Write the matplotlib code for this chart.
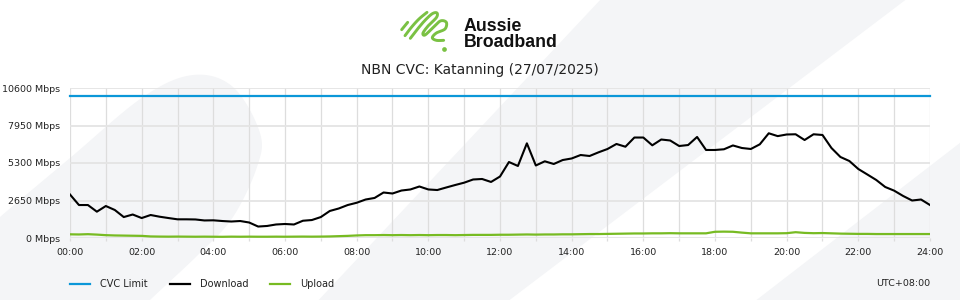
import numpy as np
import matplotlib
matplotlib.use("Agg")
import matplotlib.pyplot as plt
from matplotlib.transforms import Affine2D
from matplotlib.patches import Polygon
from matplotlib.lines import Line2D
from matplotlib.ticker import MultipleLocator, FuncFormatter

# ---------------- data ----------------
title = "NBN CVC: Katanning (27/07/2025)"
series_names = ["CVC Limit", "Download", "Upload"]
series_colors = ["#0b97d8", "#000000", "#77bb22"]
timezone_label = "UTC+08:00"
y_ticks = [0, 2650, 5300, 7950, 10600]

# hours, one sample every 15 minutes (00:00 .. 24:00)
hours = [i * 0.25 for i in range(97)]

cvc_limit = [10000] * 97

download = [
    3074, 2330, 2330, 1860, 2260, 1980, 1480, 1660,
    1410, 1625, 1505, 1410, 1320, 1320, 1310, 1240,
    1250, 1200, 1165, 1200, 1095, 810, 850, 955,
    990, 955, 1220, 1270, 1480, 1910, 2085, 2330,
    2490, 2720, 2830, 3215, 3145, 3355, 3430, 3640,
    3430, 3390, 3570, 3745, 3910, 4135, 4170, 3960,
    4345, 5370, 5090, 6690, 5125, 5420, 5230, 5510,
    5620, 5865, 5795, 6055, 6290, 6645, 6450, 7100,
    7100, 6550, 6960, 6890, 6500, 6570, 7140, 6220,
    6220, 6270, 6540, 6360, 6290, 6620, 7400, 7200,
    7315, 7330, 6925, 7330, 7280, 6360, 5725, 5440,
    4875, 4490, 4100, 3605, 3345, 2970, 2650, 2720,
    2330,
]

upload = [
    260, 250, 270, 240, 200, 180, 170, 160,
    150, 110, 100, 95, 100, 95, 90, 95,
    90, 85, 95, 90, 95, 90, 90, 95,
    90, 95, 100, 95, 100, 110, 130, 150,
    180, 200, 200, 210, 200, 210, 200, 210,
    200, 210, 210, 200, 210, 220, 220, 220,
    230, 230, 240, 250, 240, 250, 250, 260,
    260, 270, 280, 280, 290, 300, 310, 320,
    320, 330, 330, 340, 330, 330, 330, 330,
    440, 450, 440, 380, 330, 330, 330, 330,
    340, 410, 360, 340, 350, 330, 310, 300,
    290, 290, 280, 280, 280, 280, 280, 280,
    280,
]

# ---------------- figure ----------------
W, H = 960, 300
fig = plt.figure(figsize=(W / 100, H / 100), dpi=100, facecolor="white")
PX = Affine2D().scale(1 / W, -1 / H).translate(0, 1) + fig.transFigure

bg = "#f4f5f7"

def catmull(pts, n=16):
    pts = np.asarray(pts, float)
    P = np.vstack([pts[0], pts, pts[-1]])
    out = []
    for i in range(1, len(P) - 2):
        p0, p1, p2, p3 = P[i - 1], P[i], P[i + 1], P[i + 2]
        for t in np.linspace(0, 1, n, endpoint=False):
            t2, t3 = t * t, t * t * t
            out.append(0.5 * ((2 * p1) + (-p0 + p2) * t +
                              (2 * p0 - 5 * p1 + 4 * p2 - p3) * t2 +
                              (-p0 + 3 * p1 - 3 * p2 + p3) * t3))
    out.append(P[-2])
    return np.array(out)

# decorative background shapes
blob = catmull([(-30, 245), (0, 217), (70, 158), (143, 97), (193, 75),
                (233, 87), (260, 133), (257, 167), (233, 217), (200, 253),
                (150, 300), (125, 325)])
blob = np.vstack([blob, [(-30, 325)]])
fig.add_artist(Polygon(blob, closed=True, transform=PX, facecolor=bg,
                       edgecolor="none", zorder=-5))
fig.add_artist(Polygon([(314, 305), (602, -2), (908, -2), (503, 305)],
                       closed=True, transform=PX, facecolor=bg,
                       edgecolor="none", zorder=-5))
fig.add_artist(Polygon([(750, 305), (965, 139), (965, 305)],
                       closed=True, transform=PX, facecolor=bg,
                       edgecolor="none", zorder=-5))

# logo
green = "#7ac143"
def zl(pts):
    return [(395 + x / 3, 5 + y / 3) for x, y in pts]
strokes = [
    [(20, 74), (38, 52)],
    [(30, 92), (50, 66), (72, 42), (96, 22)],
    [(46, 100), (66, 74), (90, 46), (112, 26), (126, 24), (124, 38),
     (100, 62), (84, 84), (90, 90), (112, 70), (136, 48), (154, 52),
     (150, 72), (124, 84), (112, 98), (124, 106), (146, 106)],
]
for s in strokes:
    c = catmull(zl(s)) if len(s) > 2 else np.array(zl(s))
    fig.add_artist(Line2D(c[:, 0], c[:, 1], transform=PX, color=green,
                          lw=2.1, solid_capstyle="round",
                          solid_joinstyle="round"))
dx, dy = zl([(148, 132)])[0]
fig.add_artist(Line2D([dx], [dy], transform=PX, marker="o", ms=3.4,
                      color=green, mec="none"))
fig.text(464, 30.7, "Aussie", transform=PX, fontfamily="Liberation Sans",
         fontweight="bold", fontsize=12.8, color="#111111",
         ha="left", va="baseline")
fig.text(464, 46.7, "Broadband", transform=PX, fontfamily="Liberation Sans",
         fontweight="bold", fontsize=12.8, color="#111111",
         ha="left", va="baseline")

fig.text(480, 70, title, transform=PX, fontsize=10, color="#222222",
         ha="center", va="center", fontfamily="DejaVu Sans")

# ---------------- axes ----------------
x0, x1, ytop, ybot = 70, 930, 88, 238
ax = fig.add_axes([x0 / W, 1 - ybot / H, (x1 - x0) / W, (ybot - ytop) / H])
ax.set_facecolor("none")
ax.set_xlim(0, 24)
ax.set_ylim(0, 10600)
for sp in ax.spines.values():
    sp.set_visible(False)

ax.xaxis.set_major_locator(MultipleLocator(2))
ax.xaxis.set_minor_locator(MultipleLocator(1))
ax.xaxis.set_major_formatter(FuncFormatter(lambda v, p: f"{int(round(v)):02d}:00"))
ax.set_yticks(y_ticks)
ax.set_yticklabels([f"{v} Mbps" for v in y_ticks])

ax.grid(True, which="both", axis="x", color="#dddddd", lw=0.9, zorder=0)
ax.grid(True, which="major", axis="y", color="#e4e4e4", lw=1.3, zorder=0)
ax.tick_params(axis="x", which="both", length=1.8, width=0.9, color="#dddddd",
               pad=5.5, labelsize=6.8, labelcolor="#222222")
ax.tick_params(axis="y", length=0, pad=7.2, labelsize=6.8, labelcolor="#222222")

ax.plot(hours, cvc_limit, color=series_colors[0], lw=1.6, zorder=3, clip_on=False)
ax.plot(hours, download, color=series_colors[1], lw=1.5, zorder=4)
ax.plot(hours, upload, color=series_colors[2], lw=1.6, zorder=3)

# ---------------- legend ----------------
for k, (name, col) in enumerate(zip(series_names, series_colors)):
    lx = 70 + k * 100
    fig.add_artist(Line2D([lx, lx + 20], [284, 284], transform=PX,
                          color=col, lw=1.6))
    fig.text(lx + 30, 284, name, transform=PX, fontsize=7, color="#222222",
             ha="left", va="center")
fig.text(930, 284, timezone_label, transform=PX, fontsize=6.8, color="#222222",
         ha="right", va="center")

fig.savefig("out.png", dpi=100, facecolor="white")
